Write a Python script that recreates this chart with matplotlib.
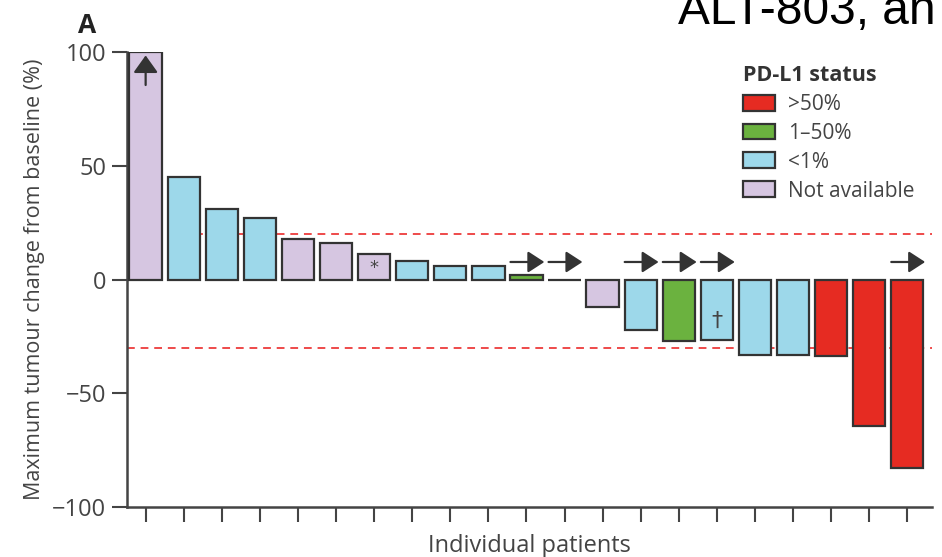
import matplotlib.pyplot as plt
from matplotlib.patches import Patch

# Data
change = [100, 45, 31, 27, 18, 16, 11, 8, 6, 6, 2, 0,
          -12, -22, -27, -26.5, -33, -33, -33.5, -64.5, -83]
status = ['NA', '<1%', '<1%', '<1%', 'NA', 'NA', 'NA', '<1%', '<1%', '<1%', '1-50%', '<1%',
          'NA', '<1%', '1-50%', '<1%', '<1%', '<1%', '>50%', '>50%', '>50%']
ongoing = [10, 11, 13, 14, 15, 20]   # patients with right arrows
legend_labels = ['>50%', '1\u201350%', '<1%', 'Not available']
legend_keys = ['>50%', '1-50%', '<1%', 'NA']

colors = {'>50%': '#e62b22', '1-50%': '#6bb23f', '<1%': '#9dd8ea', 'NA': '#d6c6e1'}
edge = '#333333'
font = 'Open Sans'

fig = plt.figure(figsize=(9.42, 5.57), dpi=100)
ax = fig.add_axes([0.1348, 0.0898, 0.8546, 0.8168])

x = list(range(len(change)))
ax.bar(x, change, width=0.85, color=[colors[s] for s in status],
       edgecolor=edge, linewidth=1.6, zorder=3)

# response thresholds
ax.axhline(20, color='#ee4a4a', linestyle=(0, (4, 3)), linewidth=1.4, zorder=1)
ax.axhline(-30, color='#ee4a4a', linestyle=(0, (4, 3)), linewidth=1.4, zorder=1)

# arrows
for i in ongoing:
    ax.annotate('', xy=(i + 0.47, 7.7), xytext=(i - 0.42, 7.7),
                arrowprops=dict(arrowstyle='-|>,head_length=1.0,head_width=0.65',
                                color='#333333', lw=1.6, mutation_scale=10,
                                shrinkA=0, shrinkB=0), zorder=5)
ax.annotate('', xy=(0, 98.5), xytext=(0, 85.5),
            arrowprops=dict(arrowstyle='-|>,head_length=1.05,head_width=0.75',
                            color='#333333', lw=1.6, mutation_scale=10,
                            shrinkA=0, shrinkB=0), zorder=5)
ax.text(6, 5.2, '*', ha='center', va='center', fontsize=13, color='#444444', zorder=5)
ax.text(15, -18, '\u2020', ha='center', va='center', fontsize=16, color='#444444', zorder=5)

ax.set_xlim(-0.49, 20.65)
ax.set_ylim(-100, 100)
ax.set_yticks([-100, -50, 0, 50, 100])
ax.set_yticklabels(['\u2212100', '\u221250', '0', '50', '100'])
ax.set_xticks(x)
ax.set_xticklabels([])
for s in ['top', 'right']:
    ax.spines[s].set_visible(False)
for s in ['left', 'bottom']:
    ax.spines[s].set_color('#444444')
    ax.spines[s].set_linewidth(1.8)
ax.tick_params(axis='both', colors='#444444', width=1.5, length=11)
ax.tick_params(axis='y', labelsize=17, labelcolor='#444444', pad=4)
for lab in ax.get_yticklabels():
    lab.set_family(font)

ax.set_ylabel('Maximum tumour change from baseline (%)', fontsize=15.5,
              family=font, color='#444444', labelpad=5)
ax.set_xlabel('Individual patients', fontsize=17, family=font,
              color='#444444', labelpad=5)

handles = [Patch(facecolor=colors[k], edgecolor=edge, linewidth=1.6) for k in legend_keys]
leg = ax.legend(handles, legend_labels, title='PD-L1 status', loc='upper left',
                bbox_to_anchor=(0.755, 0.99), frameon=False,
                prop={'family': font, 'size': 15}, handlelength=1.55, handleheight=0.8,
                handletextpad=0.6, labelspacing=0.38, borderaxespad=0)
leg.get_title().set_fontproperties({'family': font, 'size': 15.5, 'weight': 'bold'})
leg._legend_box.align = 'left'
for t in leg.get_texts():
    t.set_color('#444444')
leg.get_title().set_color('#333333')

fig.text(0.083, 0.94, 'A', fontsize=19, weight='bold', family=font, color='#222222')
fig.text(0.72, 0.957, 'ALT-803, an', fontsize=34.5, family='Liberation Sans',
         color='black', va='baseline')

fig.savefig('out.png', dpi=100)
